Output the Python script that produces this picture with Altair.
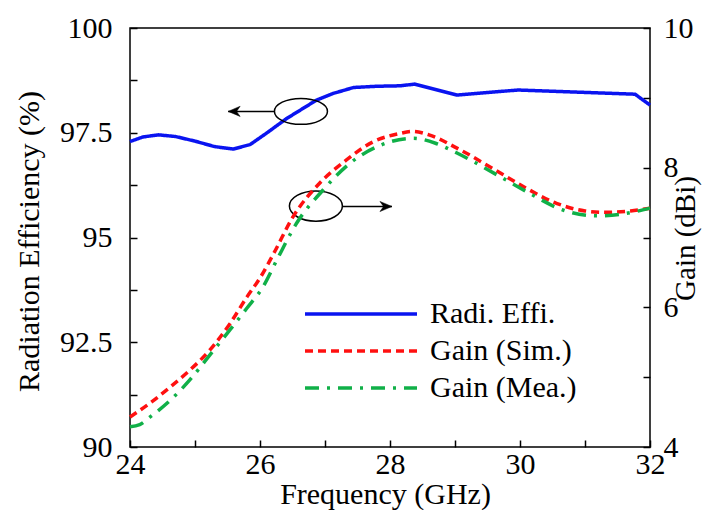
import altair as alt
import pandas as pd

# ---------------- data ----------------
series_names = ["Radi. Effi.", "Gain (Sim.)", "Gain (Mea.)"]
series_colors = ["#0a14f0", "#ff1010", "#10b048"]
series_dash = [[1, 0], [8, 5], [14, 8, 3, 8]]

freq_eff = [24.0, 24.2, 24.44, 24.7, 25.0, 25.3, 25.59, 25.85, 26.1, 26.41, 26.62,
            26.87, 27.13, 27.44, 27.8, 28.15, 28.38, 29.03, 29.97, 31.77, 32.0]
eff = [97.29, 97.40, 97.45, 97.41, 97.30, 97.17, 97.11, 97.22, 97.49, 97.84, 98.04,
       98.28, 98.44, 98.58, 98.61, 98.62, 98.66, 98.40, 98.52, 98.42, 98.16]

freq_sim = [24.0, 24.31, 24.62, 24.92, 25.23, 25.54, 25.8, 26.0, 26.21, 26.51, 26.92,
            27.33, 27.74, 28.15, 28.35, 28.6, 29.03, 29.54, 30.05, 30.56, 31.0, 31.33,
            31.7, 32.0]
gain_sim = [4.43, 4.63, 4.86, 5.10, 5.39, 5.77, 6.15, 6.42, 6.77, 7.30, 7.78,
            8.11, 8.37, 8.49, 8.52, 8.47, 8.28, 8.01, 7.73, 7.49, 7.38, 7.36,
            7.38, 7.42]

freq_mea = [24.0, 24.15, 24.31, 24.62, 24.92, 25.23, 25.54, 25.8, 26.05, 26.26, 26.56,
            26.97, 27.38, 27.85, 28.36, 28.7, 29.03, 29.64, 30.15, 30.67, 31.18, 31.6,
            32.0]
gain_mea = [4.29, 4.32, 4.43, 4.67, 4.96, 5.32, 5.68, 5.99, 6.30, 6.68, 7.20,
            7.68, 8.06, 8.32, 8.42, 8.35, 8.21, 7.90, 7.63, 7.39, 7.31, 7.34,
            7.42]

# annotation ellipses and arrows (x in GHz, y in efficiency units)
ellipse_x = [26.63, 26.86]
ellipse_y = [98.01, 95.75]
arrow_start_x = [26.22, 27.27]
arrow_tip_x = [25.51, 28.03]
arrow_y = [98.01, 95.74]

x_ticks = [24, 25, 26, 27, 28, 29, 30, 31, 32]
eff_ticks = [90, 91.25, 92.5, 93.75, 95, 96.25, 97.5, 98.75, 100]
gain_ticks = [4, 5, 6, 7, 8, 9, 10]

FONT = "Liberation Serif, Times New Roman, Tinos, DejaVu Serif, serif"

# ---------------- frames ----------------
eff_df = pd.DataFrame({"freq": freq_eff, "value": eff, "series": series_names[0]})
gain_df = pd.concat([
    pd.DataFrame({"freq": freq_sim, "value": gain_sim, "series": series_names[1]}),
    pd.DataFrame({"freq": freq_mea, "value": gain_mea, "series": series_names[2]}),
])
ell1 = pd.DataFrame({"freq": ellipse_x[:1], "value": ellipse_y[:1]})
ell2 = pd.DataFrame({"freq": ellipse_x[1:], "value": ellipse_y[1:]})
arrows = pd.DataFrame({"freq": arrow_start_x, "freq2": arrow_tip_x, "value": arrow_y})
head_l = pd.DataFrame({"freq": arrow_tip_x[:1], "value": arrow_y[:1]})
head_r = pd.DataFrame({"freq": arrow_tip_x[1:], "value": arrow_y[1:]})

# ---------------- scales / axes ----------------
x_axis = alt.Axis(values=x_ticks, orient="bottom", offset=-7, tickSize=7,
                  labelPadding=2, labelFlush=False, labelOverlap=False,
                  labelExpr="datum.value % 2 == 0 ? format(datum.value, '~g') : ''",
                  titleX=255, titleY=63, titleAlign="center", titleBaseline="alphabetic")
x_enc = alt.X("freq:Q", title="Frequency (GHz)",
              scale=alt.Scale(domain=[24, 32], nice=False, zero=False), axis=x_axis)

eff_axis = alt.Axis(values=eff_ticks, orient="left", offset=-7, tickSize=7,
                    labelPadding=18, labelOverlap=False,
                    labelExpr="datum.value % 2.5 == 0 ? format(datum.value, '~g') : ''",
                    titleAngle=270, titleX=-108, titleY=213,
                    titleAlign="center", titleBaseline="middle")
y_eff = alt.Y("value:Q", title="Radiation Efficiency (%)",
              scale=alt.Scale(domain=[90, 100], nice=False, zero=False), axis=eff_axis)

gain_axis = alt.Axis(values=gain_ticks, orient="right", offset=-7, tickSize=7,
                     labelPadding=13, labelOverlap=False,
                     labelExpr="datum.value % 2 == 0 ? format(datum.value, '~g') : ''",
                     titleAngle=270, titleX=42, titleY=210, titleFontSize=29,
                     titleAlign="center", titleBaseline="middle")
y_gain = alt.Y("value:Q", title="Gain (dBi)",
               scale=alt.Scale(domain=[4, 10], nice=False, zero=False), axis=gain_axis)

legend = alt.Legend(orient="none", legendX=215, legendY=270, title=None,
                    symbolType="M -4 0 L 4 0", symbolSize=784, symbolStrokeWidth=3.5,
                    labelFont=FONT, labelFontSize=30, labelColor="black",
                    labelOffset=53, rowPadding=6, padding=0)
color_enc = alt.Color("series:N", scale=alt.Scale(domain=series_names, range=series_colors),
                      legend=legend)
dash_enc = alt.StrokeDash("series:N", scale=alt.Scale(domain=series_names, range=series_dash),
                          legend=legend)

# ---------------- layers ----------------
eff_line = alt.Chart(eff_df).mark_line(strokeWidth=3.5).encode(
    x=x_enc, y=y_eff, color=color_enc, strokeDash=dash_enc)

ellipse_a = alt.Chart(ell1).mark_point(
    shape="M -1 0 A 1 0.49 0 1 1 1 0 A 1 0.49 0 1 1 -1 0 Z",
    size=2809, filled=False, stroke="black", strokeWidth=1.5, opacity=1
).encode(x=x_enc, y=y_eff)
ellipse_b = alt.Chart(ell2).mark_point(
    shape="M -1 0 A 1 0.57 0 1 1 1 0 A 1 0.57 0 1 1 -1 0 Z",
    size=2809, filled=False, stroke="black", strokeWidth=1.5, opacity=1
).encode(x=x_enc, y=y_eff)
shafts = alt.Chart(arrows).mark_rule(color="black", strokeWidth=1.5).encode(
    x=x_enc, x2="freq2:Q", y=y_eff)
head_left = alt.Chart(head_l).mark_point(
    shape="M 0 0 L 2 -0.85 L 1.4 0 L 2 0.85 Z", size=144, filled=True,
    fill="black", stroke="black", strokeWidth=0.5, opacity=1
).encode(x=x_enc, y=y_eff)
head_right = alt.Chart(head_r).mark_point(
    shape="M 0 0 L -2 -0.85 L -1.4 0 L -2 0.85 Z", size=144, filled=True,
    fill="black", stroke="black", strokeWidth=0.5, opacity=1
).encode(x=x_enc, y=y_eff)

left_layer = alt.layer(eff_line, ellipse_a, ellipse_b, shafts, head_left, head_right)

gain_lines = alt.Chart(gain_df).mark_line(strokeWidth=3.5, interpolate="monotone").encode(
    x=x_enc, y=y_gain, color=color_enc, strokeDash=dash_enc)

chart = alt.layer(left_layer, gain_lines).resolve_scale(y="independent").properties(
    width=520, height=419,
    padding={"left": 122, "top": 20, "right": 52, "bottom": 63},
    autosize=alt.AutoSizeParams(type="none"),
    background="white",
).configure_view(
    stroke="black", strokeWidth=1.5
).configure_axis(
    labelFont=FONT, titleFont=FONT, labelFontSize=30, titleFontSize=30,
    labelColor="black", titleColor="black", tickColor="black", tickWidth=1.5,
    domain=False, grid=False, titleFontWeight="normal"
).configure_legend(
    labelFont=FONT
).configure_text(font=FONT)

chart.save("out.html", embed_options={"renderer": "svg", "actions": False})
